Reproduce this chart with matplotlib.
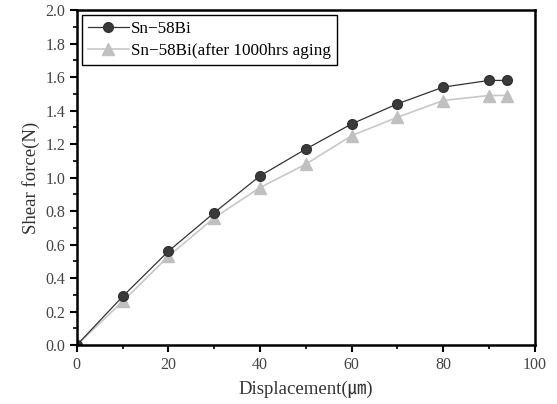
import matplotlib.pyplot as plt
from matplotlib.ticker import MultipleLocator

# displacement (um) and shear force (N)
disp = [0, 10, 20, 30, 40, 50, 60, 70, 80, 90, 94]
force_asis = [0.0, 0.29, 0.56, 0.79, 1.01, 1.17, 1.32, 1.44, 1.54, 1.58, 1.58]
force_aged = [0.0, 0.26, 0.53, 0.76, 0.94, 1.08, 1.25, 1.36, 1.46, 1.49, 1.49]

plt.rcParams['font.family'] = ['Liberation Serif', 'Noto Sans CJK KR']
plt.rcParams['font.size'] = 11.5

fig = plt.figure(figsize=(5.57, 4.04), dpi=100)
ax = fig.add_axes([0.138, 0.146, 0.822, 0.829])

ax.plot(disp, force_aged, color='#c8c8c8', lw=1.2, marker='^', ms=9,
        mec='#c0c0c0', mfc='#c0c0c0', label='Sn\u221258Bi(after 1000hrs aging')
ax.plot(disp, force_asis, color='#333333', lw=0.9, marker='o', ms=7,
        mec='#333333', mfc='#3a3a3a', label='Sn\u221258Bi')

ax.set_xlim(0, 100)
ax.set_ylim(0, 2.0)
ax.xaxis.set_major_locator(MultipleLocator(20))
ax.xaxis.set_minor_locator(MultipleLocator(10))
ax.yaxis.set_major_locator(MultipleLocator(0.2))
ax.yaxis.set_minor_locator(MultipleLocator(0.1))
ax.tick_params(which='major', direction='out', length=5, width=1.5, labelcolor='#444444')
ax.tick_params(which='minor', direction='out', length=3, width=1.2)
ax.yaxis.set_major_formatter(plt.FuncFormatter(lambda v, p: f'{v:.1f}'))
for s in ax.spines.values():
    s.set_linewidth(1.8)

ax.set_xlabel('Displacement(\u339b)', fontsize=13.5, color='#333333', labelpad=6)
ax.set_ylabel('Shear force(N)', fontsize=13.5, color='#333333')

h, l = ax.get_legend_handles_labels()
leg = ax.legend(h[::-1], l[::-1], loc='upper left', fancybox=False, edgecolor='black',
                framealpha=1, borderaxespad=0.3, handlelength=2.4, handletextpad=0.1,
                borderpad=0.35, labelspacing=0.35, fontsize=12.3)
leg.get_frame().set_linewidth(1.0)

fig.savefig('out.png', dpi=100)
